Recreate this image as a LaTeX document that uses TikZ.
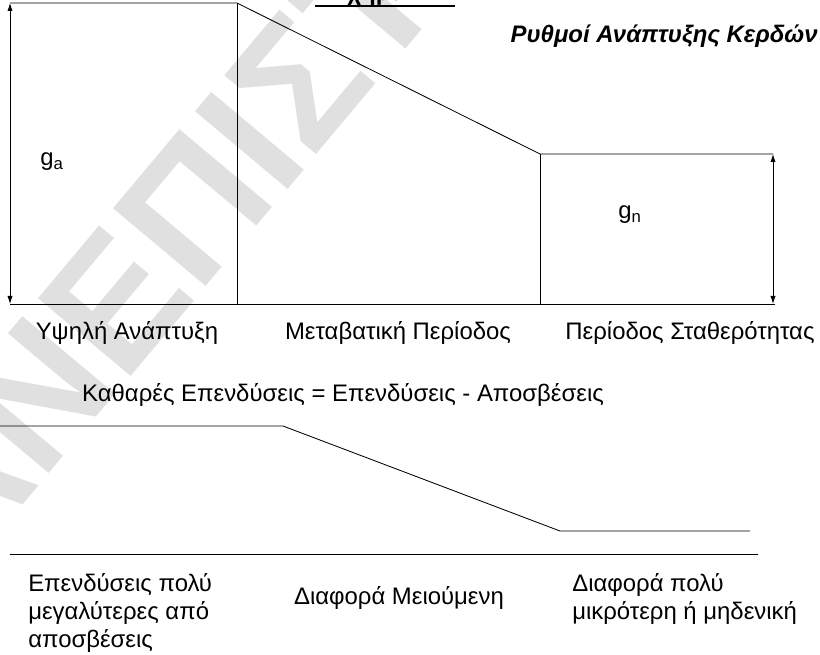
\documentclass[tikz,border=0pt]{standalone}
\usepackage{fontspec}
\setmainfont{Liberation Sans}
\usepackage{tikz}
\usetikzlibrary{arrows.meta}

\begin{document}
\begin{tikzpicture}[
  x=0.025cm, y=-0.025cm,
  lbl/.style={inner sep=0pt,font=\fontsize{17}{20}\selectfont},
  multi/.style={lbl,align=left},
  bound/.style={line width=0.6pt},
  span/.style={{Latex[length=2mm,width=1.3mm]}-{Latex[length=2mm,width=1.3mm]},line width=0.6pt},
  wmark/.style={text=black!12,font=\bfseries\fontsize{125}{125}\selectfont,rotate=50}]

  \useasboundingbox (0,0) rectangle (820,655);

  % Watermark
  \node[wmark] (wm) at (158,250) {ΑΝΕΠΙΣΤ};

  % Title (cut at the top)
  \node[lbl,font=\bfseries\fontsize{17}{19}\selectfont,minimum width=99pt,anchor=base] (fig) at (385,1) {Σχήμα 11};
  \draw[line width=2.1pt] (fig.base west)++(0,5) coordinate (ulA) -- (fig.base east |- ulA);
  \node[lbl,font=\bfseries\itshape\fontsize{17}{19}\selectfont,anchor=east] (rates) at (818,36) {Ρυθμοί Ανάπτυξης Κερδών};

  % Growth rates
  \coordinate (a1) at (10,3);
  \coordinate (a2) at (237,3);
  \coordinate (a3) at (540,154);
  \coordinate (a4) at (773,154);
  \coordinate (b1) at (10,304);
  \coordinate (b2) at (237,304);
  \coordinate (b3) at (540,304);
  \coordinate (b4) at (775,304);
  \coordinate (b5) at (773,304);

  \draw[bound] (a1) -- (a2) -- (a3) -- (a4);
  \draw[bound] (a2) -- (b2);
  \draw[bound] (a3) -- (b3);
  \draw[bound] (b1) -- (b4);
  \draw[span] (a1) -- (b1);
  \draw[span] (a4) -- (b5);

  \node[lbl] (ga) at (52,162) {g\textsubscript{a}};
  \node[lbl] (gn) at (630,215) {g\textsubscript{n}};

  \node[lbl] (high) at (127,333) {Υψηλή Ανάπτυξη};
  \node[lbl] (trans) at (398,333) {Μεταβατική Περίοδος};
  \node[lbl] (stable) at (690,333) {Περίοδος Σταθερότητας};

  % Net investment
  \node[lbl] (netinv) at (343,395) {Καθαρές Επενδύσεις = Επενδύσεις - Αποσβέσεις};

  \coordinate (c1) at (0,426);
  \coordinate (c2) at (283,426);
  \coordinate (c3) at (560,531);
  \coordinate (c4) at (750,531);
  \coordinate (d1) at (10,554);
  \coordinate (d2) at (758,554);

  \draw[bound] (c1) -- (c2) -- (c3) -- (c4);
  \draw[bound] (d1) -- (d2);

  \node[multi,anchor=north west] (big) at (28,573) {Επενδύσεις πολύ\\μεγαλύτερες από\\αποσβέσεις};
  \node[lbl] (shrink) at (399,598) {Διαφορά Μειούμενη};
  \node[multi,anchor=north west] (small) at (572,573) {Διαφορά πολύ\\μικρότερη ή μηδενική};
\end{tikzpicture}
\end{document}
